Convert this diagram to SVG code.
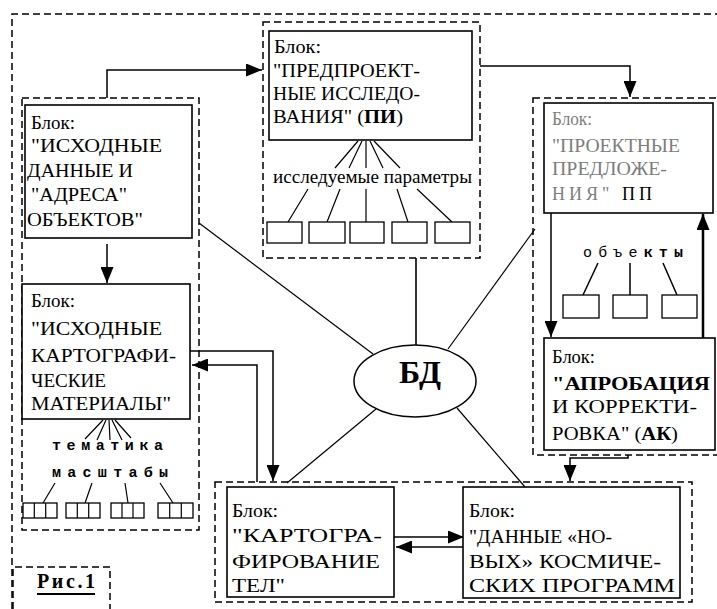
<svg xmlns="http://www.w3.org/2000/svg" width="717" height="609" viewBox="0 0 717 609">
<defs>
<marker id="ah" viewBox="0 0 16 13" refX="16" refY="6.5" markerWidth="16" markerHeight="13" markerUnits="userSpaceOnUse" orient="auto"><path d="M0,0 L16,6.5 L0,13 z" fill="#000"/></marker>
<style>
.dash{fill:none;stroke:#000;stroke-width:1.5;stroke-dasharray:7 4}
.box{fill:#fff;stroke:#000;stroke-width:1.6}
.sm{fill:#fff;stroke:#000;stroke-width:1.3}
.ln{fill:none;stroke:#000;stroke-width:1.2}
.ar{fill:none;stroke:#000;stroke-width:1.5;marker-end:url(#ah)}
.t{font-family:'Liberation Serif','DejaVu Serif',serif;font-size:18px;fill:#000}
.m{font-family:'Liberation Mono','DejaVu Sans Mono',monospace;font-size:15px;fill:#000}
.fd{fill:#7d7d7d}
</style>
</defs>
<rect x="0" y="0" width="717" height="609" fill="#fff"/>

<g id="frame">
<path class="dash" d="M12,609 V14 H717"/>
</g>

<g id="group-left">
<rect class="dash" x="22" y="98" width="177" height="432"/>
</g>
<g id="group-middle">
<rect class="dash" x="263" y="22" width="217" height="236"/>
</g>
<g id="group-right">
<rect class="dash" x="533" y="98" width="190" height="357"/>
</g>
<g id="group-bottom">
<rect class="dash" x="215" y="482" width="477" height="120"/>
</g>

<g id="connectors">
<path class="ar" d="M107,98 V70 H262"/>
<path class="ar" d="M480,66 H630 V97"/>
<path class="ar" d="M107,244 V283"/>
<path class="ar" d="M551,213 V337"/>
<path class="ar" style="stroke-width:2.5" d="M703,338 V214"/>
<path class="ar" d="M628,455 V458 H570 V481"/>
<path class="ar" d="M190,351 H273 V481"/>
<path class="ar" d="M257,482 V365 H192"/>
<path class="ar" d="M394,537 H464"/>
<path class="ar" d="M463,547 H396"/>
<path class="ln" d="M199,223 L373,354"/>
<path class="ln" d="M535,229 L448,349"/>
<path class="ln" d="M376,409 L287,483"/>
<path class="ln" d="M457,408 L525,487"/>
<path class="ln" style="stroke-width:1.6" d="M416,258 V346"/>
</g>

<g font-family="'Liberation Serif','DejaVu Serif',serif" font-size="18">
<g id="node-ishodnye-dannye">
<rect class="box" x="25" y="105" width="167" height="133"/>
<text class="t" x="31" y="129" textLength="44" lengthAdjust="spacingAndGlyphs">Блок:</text>
<text class="t" x="31" y="152" textLength="131" lengthAdjust="spacingAndGlyphs">"ИСХОДНЫЕ</text>
<text class="t" x="27" y="177" textLength="106" lengthAdjust="spacingAndGlyphs">ДАННЫЕ И</text>
<text class="t" x="31" y="201" textLength="96" lengthAdjust="spacingAndGlyphs">"АДРЕСА"</text>
<text class="t" x="27" y="226" textLength="116" lengthAdjust="spacingAndGlyphs">ОБЪЕКТОВ"</text>
</g>

<g id="node-kartograficheskie">
<rect class="box" x="22" y="284" width="168" height="135"/>
<text class="t" x="31" y="307" textLength="44" lengthAdjust="spacingAndGlyphs">Блок:</text>
<text class="t" x="31" y="335" textLength="131" lengthAdjust="spacingAndGlyphs">"ИСХОДНЫЕ</text>
<text class="t" x="31" y="362" textLength="145" lengthAdjust="spacingAndGlyphs">КАРТОГРАФИ-</text>
<text class="t" x="31" y="387" textLength="75" lengthAdjust="spacingAndGlyphs">ЧЕСКИЕ</text>
<text class="t" x="31" y="410" textLength="140" lengthAdjust="spacingAndGlyphs">МАТЕРИАЛЫ"</text>
</g>

<g id="node-predproekt">
<rect class="box" x="269" y="31" width="203" height="109"/>
<text class="t" x="274" y="53" textLength="47" lengthAdjust="spacingAndGlyphs">Блок:</text>
<text class="t" x="273" y="77" textLength="147" lengthAdjust="spacingAndGlyphs">"ПРЕДПРОЕКТ-</text>
<text class="t" x="273" y="100" textLength="147" lengthAdjust="spacingAndGlyphs">НЫЕ ИССЛЕДО-</text>
<text class="t" x="273" y="123" textLength="130" lengthAdjust="spacingAndGlyphs">ВАНИЯ" (<tspan font-weight="bold">ПИ</tspan>)</text>
</g>

<g id="node-parametry">
<path class="ln" d="M358,141 L335,168 M362,141 L349,168 M366,141 V168 M370,141 L383,168 M374,141 L400,168"/>
<text class="t" x="273" y="183" textLength="199" lengthAdjust="spacingAndGlyphs">исследуемые параметры</text>
<path class="ln" d="M308,189 L288,222 M340,189 L327,222 M366,189 V222 M397,189 L408,222 M417,189 L452,222"/>
<rect class="sm" x="267" y="222" width="35" height="21"/>
<rect class="sm" x="309" y="222" width="36" height="21"/>
<rect class="sm" x="350" y="222" width="34" height="21"/>
<rect class="sm" x="392" y="222" width="35" height="21"/>
<rect class="sm" x="435" y="222" width="35" height="21"/>
</g>

<g id="node-proektnye">
<rect class="box" x="544" y="103" width="169" height="110"/>
<text class="t fd" x="552" y="125" textLength="40" lengthAdjust="spacingAndGlyphs">Блок:</text>
<text class="t fd" x="552" y="152" textLength="128" lengthAdjust="spacingAndGlyphs">"ПРОЕКТНЫЕ</text>
<text class="t fd" x="552" y="175" textLength="115" lengthAdjust="spacingAndGlyphs">ПРЕДЛОЖЕ-</text>
<text class="t" x="552" y="200" textLength="100" lengthAdjust="spacing"><tspan class="fd">НИЯ"</tspan>  ПП</text>
</g>

<g id="node-aprobacia">
<rect class="box" x="544" y="338" width="171" height="112"/>
<text class="t" x="552" y="363" textLength="43" lengthAdjust="spacingAndGlyphs">Блок:</text>
<text class="t" x="552" y="390" font-weight="bold" textLength="158" lengthAdjust="spacingAndGlyphs">"АПРОБАЦИЯ</text>
<text class="t" x="552" y="413" textLength="145" lengthAdjust="spacingAndGlyphs">И КОРРЕКТИ-</text>
<text class="t" x="552" y="440" textLength="126" lengthAdjust="spacingAndGlyphs">РОВКА" (<tspan font-weight="bold">АК</tspan>)</text>
</g>

<g id="node-kartografirovanie">
<rect class="box" x="227" y="487" width="167" height="110"/>
<text class="t" x="232" y="517" textLength="46" lengthAdjust="spacingAndGlyphs">Блок:</text>
<text class="t" x="232" y="542" textLength="150" lengthAdjust="spacingAndGlyphs">"КАРТОГРА-</text>
<text class="t" x="232" y="568" textLength="148" lengthAdjust="spacingAndGlyphs">ФИРОВАНИЕ</text>
<text class="t" x="232" y="592" textLength="53" lengthAdjust="spacingAndGlyphs">ТЕЛ"</text>
</g>

<g id="node-dannye-novyh">
<rect class="box" x="463" y="487" width="217" height="111"/>
<text class="t" x="469" y="517" textLength="46" lengthAdjust="spacingAndGlyphs">Блок:</text>
<text class="t" x="469" y="543" textLength="143" lengthAdjust="spacingAndGlyphs">"ДАННЫЕ «НО-</text>
<text class="t" x="469" y="568" textLength="192" lengthAdjust="spacingAndGlyphs">ВЫХ» КОСМИЧЕ-</text>
<text class="t" x="469" y="592" textLength="206" lengthAdjust="spacingAndGlyphs">СКИХ ПРОГРАММ</text>
</g>
</g>

<g id="node-tematika-masshtaby">
<path class="ln" d="M103,420 L85,439 M106,420 L97,440 M109,420 L110,440 M112,420 L122,440 M115,420 L131,438"/>
<text class="m" font-family="'Liberation Mono','DejaVu Sans Mono',monospace" x="52" y="450" font-weight="bold" textLength="111" lengthAdjust="spacing">тематика</text>
<text class="m" font-family="'Liberation Mono','DejaVu Sans Mono',monospace" x="52" y="477" font-weight="bold" textLength="116" lengthAdjust="spacing">масштабы</text>
<path class="ln" d="M55,483 L43,503 M92,483 L85,503 M125,483 L128,503 M160,483 L173,503"/>
<rect class="sm" x="23" y="503" width="34" height="15"/>
<path class="ln" d="M34.3,503 V518 M45.7,503 V518"/>
<rect class="sm" x="66" y="503" width="34" height="15"/>
<path class="ln" d="M77.3,503 V518 M88.7,503 V518"/>
<rect class="sm" x="111" y="503" width="33" height="15"/>
<path class="ln" d="M122,503 V518 M133,503 V518"/>
<rect class="sm" x="158" y="503" width="35" height="15"/>
<path class="ln" d="M169.7,503 V518 M181.3,503 V518"/>
</g>

<g id="node-obekty">
<text class="m" font-family="'Liberation Mono','DejaVu Sans Mono',monospace" x="583" y="257" textLength="100" lengthAdjust="spacing">объе<tspan font-weight="bold">кты</tspan></text>
<path class="ln" style="stroke-width:1.5" d="M598,263 L583,295 M630,263 V295 M663,263 L677,295"/>
<rect class="sm" x="563" y="295" width="36" height="23"/>
<rect class="sm" x="613" y="295" width="34" height="23"/>
<rect class="sm" x="662" y="295" width="35" height="23"/>
</g>

<g id="node-bd">
<ellipse cx="415" cy="381" rx="61" ry="36" fill="#fff" stroke="#000" stroke-width="1.5"/>
<text x="420" y="383" text-anchor="middle" font-family="'Liberation Serif','DejaVu Serif',serif" font-size="32" font-weight="bold">БД</text>
</g>

<g id="caption">
<path class="dash" d="M13,609 V567 H110 V609"/>
<text x="37" y="588" font-family="'Liberation Serif','DejaVu Serif',serif" font-size="20" font-weight="bold" textLength="58" lengthAdjust="spacing">Рис.1</text>
<path d="M37,594 H95" stroke="#000" stroke-width="2"/>
</g>
</svg>
